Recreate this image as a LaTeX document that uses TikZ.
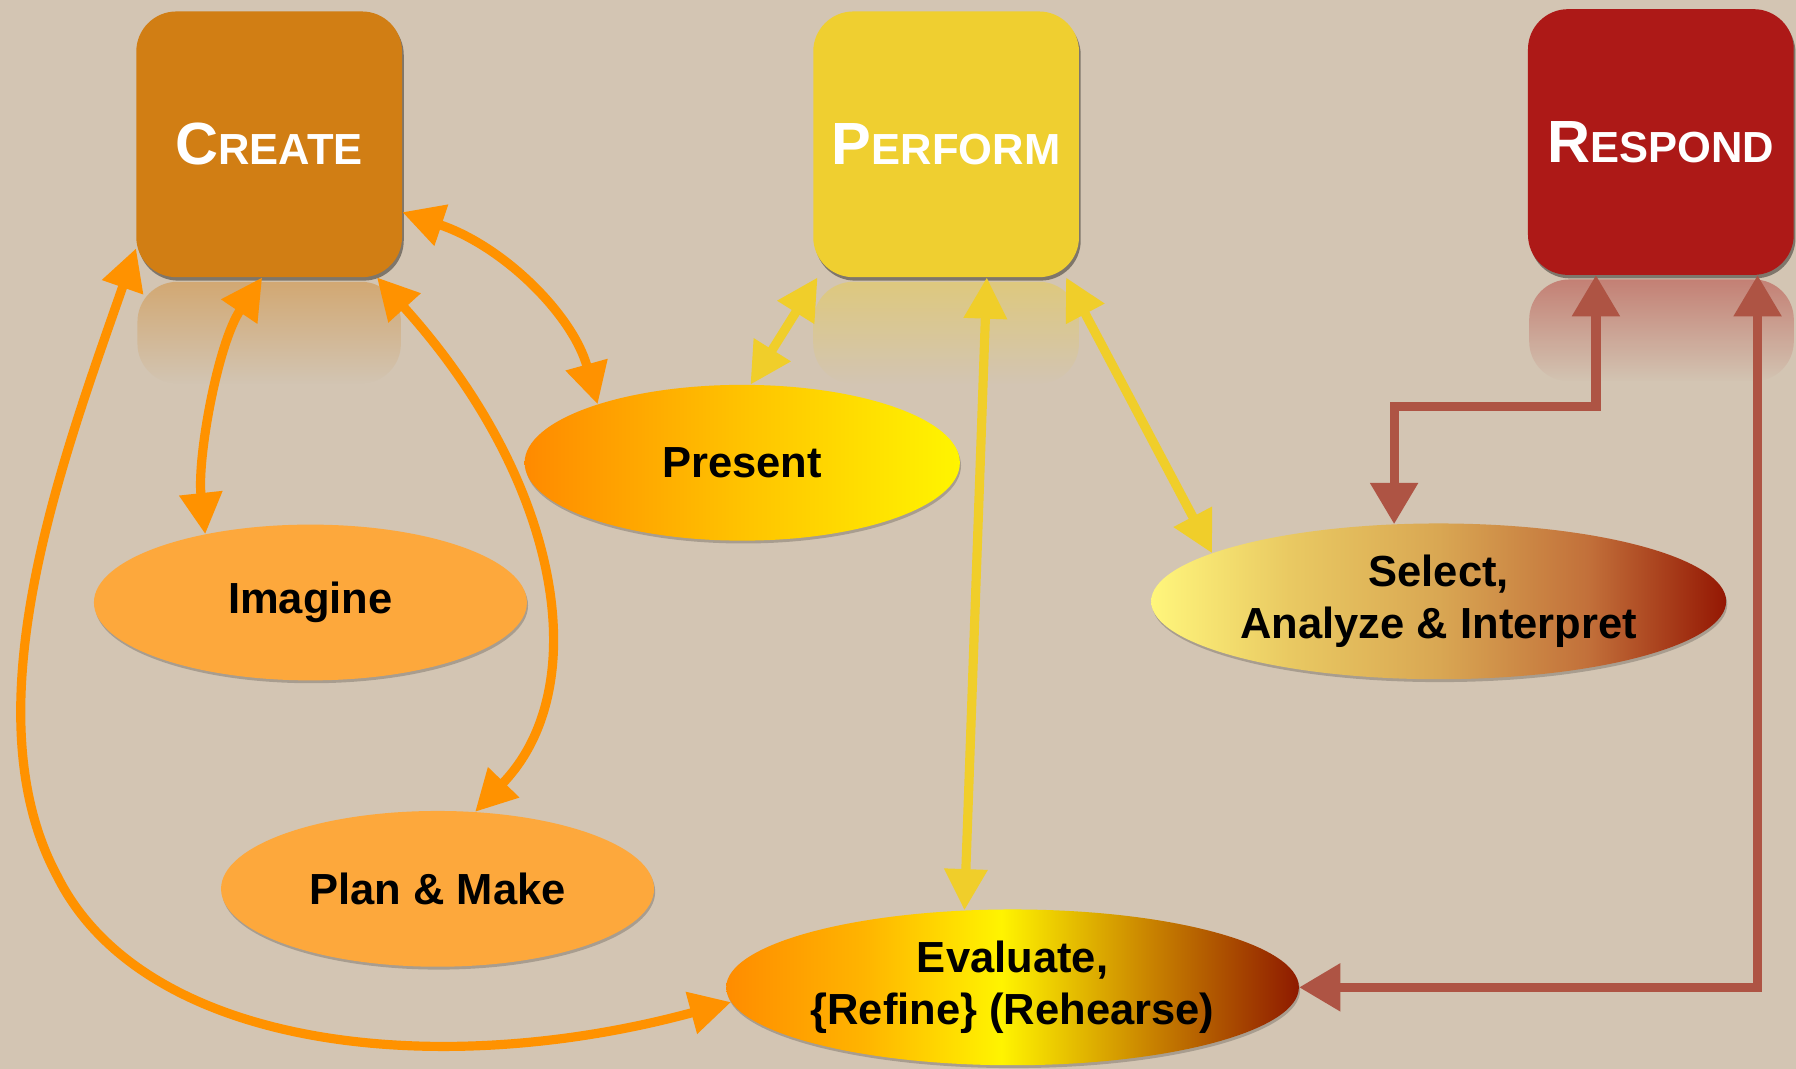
\documentclass[tikz,border=0pt]{standalone}
\usepackage{fontspec}
\setmainfont{Liberation Sans}
\usetikzlibrary{arrows.meta,shapes.geometric,shadows,fadings}
\definecolor{bg}{HTML}{D3C5B3}
\definecolor{createC}{HTML}{D17E14}
\definecolor{performC}{HTML}{EFCF30}
\definecolor{respondC}{HTML}{AD1917}
\definecolor{ovalC}{HTML}{FDA83C}
\definecolor{arrO}{HTML}{FF9200}
\definecolor{arrY}{HTML}{F0CE2A}
\definecolor{arrR}{HTML}{AE5444}
\definecolor{presL}{HTML}{FF8A00}
\definecolor{presM}{HTML}{FFC300}
\definecolor{presR}{HTML}{FFF500}
\definecolor{evL}{HTML}{FF8C00}
\definecolor{evK}{HTML}{FFB400}
\definecolor{evM}{HTML}{FFF400}
\definecolor{evN}{HTML}{C98300}
\definecolor{evR}{HTML}{8E1A00}
\definecolor{selL}{HTML}{FFF67C}
\definecolor{selK}{HTML}{E9C962}
\definecolor{selM}{HTML}{D9A753}
\definecolor{selN}{HTML}{C2703A}
\definecolor{selR}{HTML}{941703}
\pgfdeclarehorizontalshading{presshade}{100bp}{color(0bp)=(presL); color(25bp)=(presL); color(50bp)=(presM); color(75bp)=(presR); color(100bp)=(presR)}
\pgfdeclarehorizontalshading{evshade}{100bp}{color(0bp)=(evL); color(25bp)=(evL); color(37bp)=(evK); color(49bp)=(evM); color(62bp)=(evN); color(75bp)=(evR); color(100bp)=(evR)}
\pgfdeclarehorizontalshading{selshade}{100bp}{color(0bp)=(selL); color(25bp)=(selL); color(37bp)=(selK); color(50bp)=(selM); color(63bp)=(selN); color(75bp)=(selR); color(100bp)=(selR)}
\tikzfading[name=reflfade, top color=transparent!60, bottom color=transparent!100]
\tikzset{
  box/.style={rounded corners=35pt, minimum width=232pt, minimum height=232pt, inner sep=0pt,
    text=white, font=\bfseries,
    drop shadow={shadow xshift=1.5pt, shadow yshift=-3pt, opacity=0.4, fill=black}},
  refl/.style={rounded corners=35pt, path fading=reflfade},
  oval/.style={ellipse, inner sep=0pt, minimum height=136pt, align=center,
    font=\fontsize{38}{45}\selectfont\bfseries,
    drop shadow={shadow xshift=1pt, shadow yshift=-2.5pt, opacity=0.2, fill=black}},
  arrowO/.style={draw=arrO, line width=8pt,
    {Triangle[length=36pt,width=36pt]}-{Triangle[length=36pt,width=36pt]}},
  arrowY/.style={draw=arrY, line width=8pt,
    {Triangle[length=36pt,width=36pt]}-{Triangle[length=36pt,width=36pt]}},
  arrowR/.style={draw=arrR, line width=8pt, miter limit=10,
    {Triangle[length=36pt,width=40pt]}-{Triangle[length=36pt,width=40pt]}}
}
\newcommand{\bigc}[2]{{\fontsize{52}{52}\selectfont #1\fontsize{38}{38}\selectfont #2}}
\begin{document}
\begin{tikzpicture}[x=1pt,y=-1pt]
\useasboundingbox (0,0) rectangle (1568,933);
\fill[bg] (0,0) rectangle (1568,933);
% reflections
\fill[createC, refl] (120,246) rectangle (350,335);
\fill[performC, refl] (710,246) rectangle (942,335);
\fill[respondC, refl] (1335,244) rectangle (1566,333);
% boxes
\node[box, fill=createC] (create) at (235,126) {\bigc{C}{REATE}};
\node[box, fill=performC] (perform) at (826,126) {\bigc{P}{ERFORM}};
\node[box, fill=respondC] (respond) at (1450,124) {\bigc{R}{ESPOND}};
% ovals
\node[oval, minimum width=380pt, shade, shading=presshade] (present) at (648,404) {Present};
\node[oval, minimum width=378pt, fill=ovalC] (imagine) at (271,526) {Imagine};
\node[oval, minimum width=378pt, fill=ovalC] (plan) at (382,776) {Plan \& Make};
\node[oval, minimum width=502pt, shade, shading=selshade] (select) at (1256,525) {Select,\\Analyze \& Interpret};
\node[oval, minimum width=500pt, shade, shading=evshade] (evaluate) at (884,862) {Evaluate,\\\{Refine\} (Rehearse)};
% orange connectors
\draw[arrowO] (create.-27) .. controls (440,215) and (500,275) .. (present.158);
\draw[arrowO] (create.-93) .. controls (190,300) and (172,400) .. (imagine.147);
\draw[arrowO] (create.-51) .. controls (490,420) and (520,600) .. (plan.64);
\draw[arrowO] (create.218) .. controls (55,400) and (-28,620) .. (50,765) .. controls (125,915) and (380,945) .. (evaluate.183);
% yellow connectors
\draw[arrowY] (perform.-134) -- (present.84);
\draw[arrowY] (perform.-73) -- (evaluate.122);
\draw[arrowY] (perform.-48) -- (select.168);
% red connectors
\draw[arrowR] (respond.-116) -- ++(0,115) -| (select.120);
\draw[arrowR] (respond.-54) |- (evaluate.east);
\end{tikzpicture}
\end{document}
